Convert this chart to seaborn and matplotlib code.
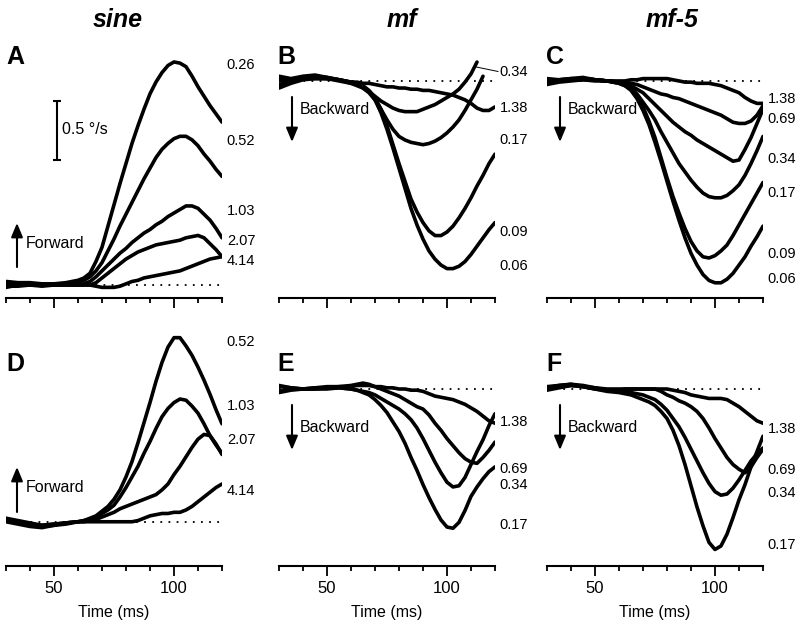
import numpy as np
import pandas as pd
import matplotlib
matplotlib.use("Agg")
import matplotlib.pyplot as plt
import seaborn as sns

nan = np.nan

# time grid (ms) shared by every trace
T = [30, 35, 40, 45, 50, 55, 60, 62.5, 65, 67.5, 70, 72.5, 75, 77.5, 80, 82.5, 85, 87.5, 90,
     92.5, 95, 97.5, 100, 102.5, 105, 107.5, 110, 112.5, 115, 117.5, 120]

# eye velocity (deg/s), A: sine
A_LABELS = ["0.26", "0.52", "1.03", "2.07", "4.14"]
A_026 = [0.03, 0.02, 0.02, 0.01, 0.01, 0.02, 0.04, 0.06, 0.10, 0.20, 0.32, 0.50, 0.68, 0.86, 1.03, 1.20, 1.35, 1.49, 1.62, 1.72, 1.80, 1.86, 1.89, 1.88, 1.85, 1.77, 1.68, 1.60, 1.52, 1.45, 1.38]
A_052 = [0.02, 0.01, 0.01, 0.00, 0.01, 0.01, 0.02, 0.04, 0.07, 0.12, 0.19, 0.29, 0.39, 0.50, 0.60, 0.70, 0.80, 0.90, 0.99, 1.08, 1.15, 1.20, 1.24, 1.26, 1.26, 1.23, 1.18, 1.11, 1.05, 0.98, 0.92]
A_103 = [0.00, 0.00, 0.00, 0.00, 0.00, 0.00, 0.00, 0.01, 0.03, 0.07, 0.12, 0.17, 0.22, 0.27, 0.31, 0.36, 0.40, 0.44, 0.47, 0.51, 0.54, 0.58, 0.61, 0.64, 0.67, 0.67, 0.65, 0.60, 0.55, 0.48, 0.40]
A_207 = [-0.01, -0.01, 0.00, 0.01, 0.00, 0.00, 0.00, 0.00, 0.00, 0.02, 0.06, 0.10, 0.14, 0.18, 0.22, 0.25, 0.28, 0.30, 0.32, 0.34, 0.35, 0.36, 0.37, 0.38, 0.40, 0.41, 0.42, 0.40, 0.35, 0.30, 0.24]
A_414 = [-0.02, 0.00, 0.00, -0.01, 0.00, 0.00, 0.00, 0.00, 0.00, -0.01, -0.02, -0.02, -0.02, -0.01, 0.01, 0.03, 0.04, 0.06, 0.07, 0.08, 0.09, 0.10, 0.11, 0.12, 0.14, 0.16, 0.18, 0.20, 0.22, 0.23, 0.24]
A_LABEL_Y = [1.86, 1.22, 0.63, 0.37, 0.20]

# B: mf
B_LABELS = ["0.34", "1.38", "0.17", "0.09", "0.06"]
B_034 = [0.04, 0.02, 0.04, 0.05, 0.03, 0.01, -0.02, -0.04, -0.06, -0.09, -0.13, -0.17, -0.20, -0.23, -0.25, -0.26, -0.26, -0.26, -0.24, -0.22, -0.20, -0.17, -0.14, -0.11, -0.07, -0.01, 0.06, 0.16, nan, nan, nan]
B_138 = [0.00, 0.00, 0.02, 0.03, 0.02, 0.01, -0.01, -0.01, -0.02, -0.02, -0.03, -0.04, -0.05, -0.05, -0.06, -0.06, -0.07, -0.07, -0.08, -0.08, -0.09, -0.10, -0.11, -0.12, -0.14, -0.16, -0.19, -0.23, -0.25, -0.25, -0.22]
B_017 = [0.02, 0.01, 0.03, 0.04, 0.03, 0.01, -0.01, -0.03, -0.06, -0.10, -0.16, -0.24, -0.33, -0.41, -0.47, -0.50, -0.52, -0.53, -0.54, -0.53, -0.51, -0.48, -0.44, -0.39, -0.33, -0.25, -0.16, -0.07, 0.04, nan, nan]
B_009 = [-0.03, -0.01, 0.02, 0.02, 0.02, 0.01, -0.01, -0.02, -0.04, -0.08, -0.14, -0.24, -0.38, -0.54, -0.70, -0.85, -1.00, -1.11, -1.20, -1.27, -1.31, -1.31, -1.28, -1.23, -1.16, -1.08, -0.99, -0.89, -0.80, -0.70, -0.62]
B_006 = [-0.06, -0.02, 0.01, 0.02, 0.02, 0.00, -0.02, -0.03, -0.05, -0.09, -0.16, -0.27, -0.41, -0.57, -0.74, -0.91, -1.08, -1.22, -1.34, -1.44, -1.51, -1.56, -1.59, -1.59, -1.57, -1.53, -1.47, -1.40, -1.33, -1.26, -1.20]
B_LABEL_Y = [0.08, -0.23, -0.50, -1.28, -1.57]

# C: mf-5
C_LABELS = ["1.38", "0.69", "0.34", "0.17", "0.09", "0.06"]
C_138 = [0.02, 0.01, 0.02, 0.03, 0.01, 0.00, 0.00, 0.00, 0.01, 0.01, 0.02, 0.02, 0.02, 0.02, 0.02, 0.01, 0.00, -0.01, -0.01, -0.02, -0.02, -0.02, -0.03, -0.04, -0.06, -0.08, -0.10, -0.14, -0.17, -0.19, -0.19]
C_069 = [0.01, 0.00, 0.01, 0.02, 0.01, 0.00, -0.01, -0.01, -0.02, -0.03, -0.05, -0.07, -0.09, -0.11, -0.12, -0.14, -0.15, -0.17, -0.19, -0.21, -0.23, -0.25, -0.27, -0.29, -0.32, -0.35, -0.36, -0.36, -0.34, -0.29, -0.21]
C_034 = [0.00, 0.01, 0.02, 0.02, 0.01, 0.00, -0.01, -0.02, -0.04, -0.07, -0.10, -0.15, -0.20, -0.25, -0.30, -0.35, -0.39, -0.43, -0.46, -0.50, -0.53, -0.56, -0.59, -0.62, -0.65, -0.68, -0.67, -0.58, -0.48, -0.36, -0.24]
C_017 = [-0.01, 0.00, 0.01, 0.02, 0.01, 0.00, -0.01, -0.03, -0.06, -0.11, -0.18, -0.25, -0.33, -0.43, -0.52, -0.61, -0.70, -0.77, -0.84, -0.90, -0.95, -0.98, -0.99, -0.99, -0.97, -0.93, -0.88, -0.80, -0.70, -0.59, -0.47]
C_009 = [-0.02, 0.00, 0.01, 0.01, 0.01, 0.00, -0.02, -0.04, -0.07, -0.13, -0.22, -0.34, -0.48, -0.65, -0.82, -0.98, -1.12, -1.25, -1.36, -1.44, -1.49, -1.50, -1.48, -1.44, -1.39, -1.31, -1.22, -1.13, -1.04, -0.95, -0.86]
C_006 = [-0.03, -0.01, 0.00, 0.01, 0.00, 0.00, -0.02, -0.04, -0.08, -0.15, -0.25, -0.37, -0.52, -0.68, -0.85, -1.02, -1.18, -1.33, -1.46, -1.56, -1.64, -1.69, -1.71, -1.71, -1.68, -1.63, -1.56, -1.49, -1.40, -1.32, -1.23]
C_LABEL_Y = [-0.15, -0.32, -0.66, -0.95, -1.47, -1.68]

# D: sine
D_LABELS = ["0.52", "1.03", "2.07", "4.14"]
D_052 = [0.01, -0.01, -0.03, -0.04, -0.03, -0.02, 0.00, 0.01, 0.03, 0.05, 0.09, 0.13, 0.19, 0.27, 0.38, 0.51, 0.67, 0.84, 1.01, 1.19, 1.35, 1.48, 1.56, 1.56, 1.49, 1.41, 1.31, 1.20, 1.08, 0.95, 0.83]
D_103 = [0.00, -0.02, -0.04, -0.05, -0.03, -0.01, 0.00, 0.01, 0.02, 0.04, 0.07, 0.10, 0.14, 0.21, 0.29, 0.38, 0.47, 0.58, 0.68, 0.79, 0.89, 0.96, 1.01, 1.04, 1.03, 0.98, 0.92, 0.83, 0.73, 0.65, 0.58]
D_207 = [0.02, 0.00, -0.02, -0.03, -0.02, -0.01, 0.00, 0.00, 0.01, 0.02, 0.04, 0.06, 0.08, 0.11, 0.13, 0.15, 0.17, 0.19, 0.21, 0.23, 0.27, 0.32, 0.40, 0.47, 0.55, 0.63, 0.70, 0.74, 0.73, 0.66, 0.57]
D_414 = [0.03, 0.01, -0.01, -0.03, -0.02, -0.01, 0.00, 0.00, 0.00, 0.00, 0.00, 0.00, 0.00, 0.00, 0.00, 0.00, 0.01, 0.03, 0.05, 0.06, 0.07, 0.07, 0.08, 0.08, 0.10, 0.13, 0.17, 0.21, 0.25, 0.29, 0.32]
D_LABEL_Y = [1.52, 0.98, 0.69, 0.26]

# E: mf
E_LABELS = ["1.38", "0.69", "0.34", "0.17"]
E_138 = [0.02, 0.01, 0.00, 0.01, 0.02, 0.02, 0.02, 0.03, 0.03, 0.03, 0.02, 0.02, 0.01, 0.01, 0.00, 0.00, -0.01, -0.01, -0.02, -0.04, -0.06, -0.07, -0.08, -0.09, -0.11, -0.13, -0.16, -0.19, -0.23, -0.27, -0.29]
E_069 = [-0.02, 0.00, 0.00, 0.01, 0.01, 0.02, 0.03, 0.04, 0.05, 0.04, 0.02, 0.00, -0.02, -0.04, -0.06, -0.09, -0.12, -0.15, -0.17, -0.22, -0.29, -0.35, -0.42, -0.48, -0.54, -0.59, -0.62, -0.63, -0.58, -0.52, -0.45]
E_034 = [0.03, 0.01, 0.00, 0.00, 0.01, 0.01, 0.00, -0.01, -0.02, -0.03, -0.05, -0.08, -0.11, -0.14, -0.17, -0.21, -0.26, -0.33, -0.42, -0.52, -0.62, -0.71, -0.79, -0.83, -0.82, -0.75, -0.64, -0.53, -0.43, -0.31, -0.21]
E_017 = [-0.03, -0.01, 0.00, 0.00, 0.00, 0.01, 0.00, -0.01, -0.03, -0.05, -0.09, -0.14, -0.20, -0.28, -0.36, -0.46, -0.58, -0.69, -0.81, -0.92, -1.02, -1.11, -1.17, -1.18, -1.13, -1.03, -0.91, -0.83, -0.76, -0.70, -0.66]
E_LABEL_Y = [-0.28, -0.68, -0.81, -1.15]

# F: mf-5
F_LABELS = ["1.38", "0.69", "0.34", "0.17"]
F_138 = [0.02, 0.03, 0.04, 0.02, 0.01, 0.00, 0.00, 0.00, 0.00, 0.00, 0.00, 0.00, 0.00, 0.00, 0.00, -0.01, -0.02, -0.03, -0.05, -0.06, -0.07, -0.08, -0.08, -0.08, -0.09, -0.12, -0.15, -0.19, -0.23, -0.27, -0.29]
F_069 = [0.01, 0.03, 0.04, 0.03, 0.01, -0.01, -0.01, 0.00, 0.00, 0.00, 0.00, 0.00, 0.00, -0.02, -0.05, -0.07, -0.10, -0.12, -0.15, -0.19, -0.25, -0.33, -0.42, -0.50, -0.58, -0.64, -0.68, -0.71, -0.66, -0.58, -0.51]
F_034 = [0.00, 0.02, 0.03, 0.02, 0.00, -0.01, -0.02, -0.02, -0.03, -0.04, -0.05, -0.07, -0.09, -0.13, -0.18, -0.25, -0.32, -0.41, -0.51, -0.61, -0.71, -0.80, -0.87, -0.90, -0.89, -0.84, -0.77, -0.69, -0.61, -0.55, -0.50]
F_017 = [-0.01, 0.01, 0.03, 0.02, 0.00, -0.02, -0.03, -0.04, -0.05, -0.07, -0.09, -0.11, -0.14, -0.19, -0.25, -0.35, -0.48, -0.64, -0.82, -1.00, -1.16, -1.30, -1.36, -1.33, -1.23, -1.09, -0.94, -0.81, -0.66, -0.53, -0.40]
F_LABEL_Y = [-0.34, -0.69, -0.88, -1.32]

COL_TITLES = ["sine", "mf", "mf-5"]

sns.set_theme(style="white")
plt.rcParams['font.family'] = ['Liberation Sans', 'DejaVu Sans']
plt.rcParams.update({'text.color': 'black', 'axes.labelcolor': 'black',
                     'xtick.color': 'black', 'axes.edgecolor': 'black'})

W, H = 800, 626
fig = plt.figure(figsize=(8, 6.26), dpi=100)


def ftext(x, y, s, **kw):
    fig.text(x / W, 1 - y / H, s, **kw)


def arrow(x, y0, y1):
    fig.add_artist(plt.Annotation(
        '', xy=(x, H - y1), xytext=(x, H - y0),
        xycoords='figure pixels', textcoords='figure pixels',
        arrowprops=dict(arrowstyle='-|>,head_length=0.6,head_width=0.25',
                        color='black', lw=1.5, mutation_scale=14,
                        shrinkA=0, shrinkB=0)))


panels = [
    ("A", [A_026, A_052, A_103, A_207, A_414], A_LABELS, A_LABEL_Y, (6, 40, 298), (-0.110, 2.076)),
    ("B", [B_034, B_138, B_017, B_009, B_006], B_LABELS, B_LABEL_Y, (279, 40, 298), (-1.839, 0.347)),
    ("C", [C_138, C_069, C_034, C_017, C_009, C_006], C_LABELS, C_LABEL_Y, (547, 40, 298), (-1.839, 0.347)),
    ("D", [D_052, D_103, D_207, D_414], D_LABELS, D_LABEL_Y, (6, 330, 566), (-0.375, 1.625)),
    ("E", [E_138, E_069, E_034, E_017], E_LABELS, E_LABEL_Y, (279, 330, 566), (-1.5, 0.5)),
    ("F", [F_138, F_069, F_034, F_017], F_LABELS, F_LABEL_Y, (547, 330, 566), (-1.5, 0.5)),
]

axes = {}
for i, (name, traces, labels, label_y, (left, top, bottom), ylim) in enumerate(panels):
    assert all(len(tr) == len(T) for tr in traces), name
    ax = fig.add_axes([left / W, 1 - bottom / H, 216 / W, (bottom - top) / H])
    ax.patch.set_alpha(0)
    axes[name] = ax

    df = pd.DataFrame({
        'time': np.tile(T, len(traces)),
        'velocity': np.concatenate(traces),
        'speed': np.repeat(labels, len(T)),
    })
    ax.axhline(0, color='black', ls=(0, (1, 3.5)), lw=1.3, zorder=1)
    sns.lineplot(data=df, x='time', y='velocity', units='speed', estimator=None,
                 color='black', lw=2.6, legend=False, ax=ax, zorder=3,
                 solid_joinstyle='round', solid_capstyle='round')

    ax.set_xlim(30, 120)
    ax.set_ylim(*ylim)
    ax.set_yticks([])
    ax.set_ylabel('')
    for s in ['top', 'left', 'right']:
        ax.spines[s].set_visible(False)
    ax.spines['bottom'].set_linewidth(1.5)
    ax.spines['bottom'].set_zorder(5)
    ax.set_xticks([50, 100])
    ax.set_xticks(list(range(30, 121, 10)), minor=True)
    ax.tick_params(axis='x', which='major', bottom=True, direction='out',
                   length=7, width=1.3, pad=4, labelsize=12)
    ax.tick_params(axis='x', which='minor', bottom=True, direction='out',
                   length=3.8, width=1.3)
    if i < 3:
        ax.tick_params(axis='x', labelbottom=False)
        ax.set_xlabel('')
    else:
        ax.set_xlabel('Time (ms)', fontsize=11.5, labelpad=6)

    for lab, y in zip(labels, label_y):
        ax.text(122, y, lab, fontsize=10.5, ha='left', va='center', clip_on=False)

# leader line for the 0.34 trace in B
axes["B"].plot([111.8, 121.3], [0.12, 0.08], color='black', lw=0.7, clip_on=False)

# scale bar in A
axA = axes["A"]
axA.plot([51.25, 51.25], [1.06, 1.56], color='black', lw=1.5, marker='_',
         markersize=6, markeredgewidth=1.5, clip_on=False)
ftext(62, 130, '0.5 °/s', fontsize=11.5, ha='left', va='center')

# column titles and panel letters
for x, t in zip([118, 402, 672], COL_TITLES):
    ftext(x, 20, t, fontsize=18, fontweight='bold', fontstyle='italic', ha='center', va='center')
for x, y, letter in [(6, 57, "A"), (277, 57, "B"), (546, 57, "C"),
                     (6, 364, "D"), (277, 364, "E"), (546, 364, "F")]:
    ftext(x, y, letter, fontsize=18, fontweight='bold', ha='left', va='center')

# direction arrows
arrow(17, 267, 223)
ftext(26, 243, 'Forward', fontsize=11.5, ha='left', va='center')
arrow(17, 512, 467)
ftext(26, 488, 'Forward', fontsize=11.5, ha='left', va='center')
for x in (292, 560):
    arrow(x, 97, 142)
    ftext(x + 8, 110, 'Backward', fontsize=11.5, ha='left', va='center')
    arrow(x, 405, 450)
    ftext(x + 8, 428, 'Backward', fontsize=11.5, ha='left', va='center')

fig.savefig('out.png', dpi=100)
